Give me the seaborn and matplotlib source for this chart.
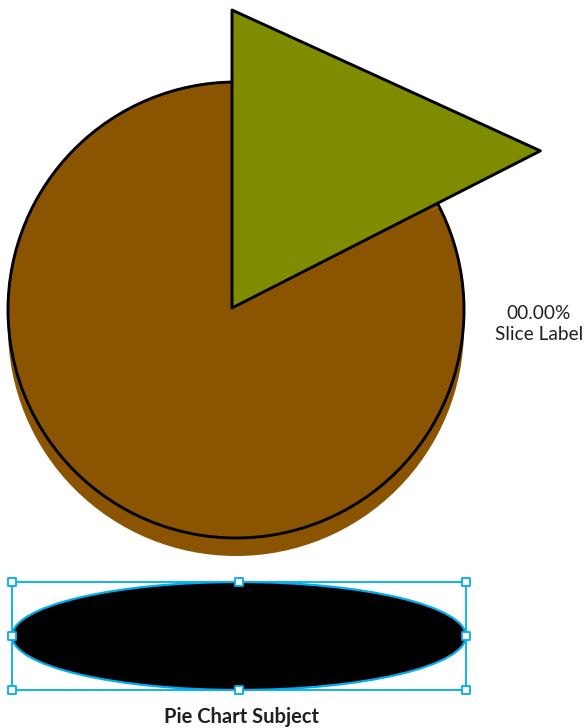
import matplotlib
matplotlib.use("Agg")
import matplotlib.pyplot as plt
from matplotlib.patches import Polygon, Ellipse, Rectangle, Circle
import numpy as np
import pandas as pd
import seaborn as sns

# ---- data ----
slice_names = ["Other", "Slice"]
slice_values = [82.5, 17.5]
slice_colors = ["#8B5400", "#7F8C00"]
slice_label = "00.00%\nSlice Label"
subject_title = "Pie Chart Subject"

sns.set_theme(style="white")
plt.rcParams["font.family"] = ["Lato", "DejaVu Sans"]

W, H = 587, 728
fig = plt.figure(figsize=(W / 100, H / 100), dpi=100)
ax = fig.add_axes([0, 0, 1, 1])


def py(y):
    return H - y


cx, cy, R = 236, py(310), 228
shadow_dy = 18

# shadow
ax.add_patch(Circle((cx, cy - shadow_dy), R, facecolor=slice_colors[0], edgecolor="none", zorder=1))

wedges, _ = ax.pie(slice_values, colors=slice_colors, startangle=90, counterclock=True,
                   center=(cx, cy), radius=R,
                   wedgeprops=dict(edgecolor="none", linewidth=0, zorder=2))
# base disc outline
ax.add_patch(Circle((cx, cy), R, facecolor="none", edgecolor="black", linewidth=2.1, zorder=2.5))

# exploded triangular slice
g = wedges[1]
g.set_facecolor(slice_colors[0])
t1, t2 = g.theta1, g.theta2
ax_off = np.array([-4, 2])
apex = np.array([cx, cy]) + ax_off
r1, r2 = 1.518 * R, 1.307 * R
p1 = apex + r1 * np.array([np.cos(np.radians(t1)), np.sin(np.radians(t1))])
p2 = apex + r2 * np.array([np.cos(np.radians(t2)), np.sin(np.radians(t2))])
ax.add_patch(Polygon([apex, p1, p2], closed=True, facecolor=slice_colors[1],
                     edgecolor="black", linewidth=2.1, joinstyle="round", zorder=3))

ax.text(539, py(324), slice_label, ha="center", va="center", fontsize=13.75,
        color="#231f20", linespacing=1.35, zorder=5)

# subject ellipse with selection box
ex, ey, ew, eh = 239, py(636), 454, 108
ax.add_patch(Ellipse((ex, ey), ew, eh, facecolor="black", edgecolor="#00AEEF", linewidth=1.6, zorder=2))
ax.add_patch(Rectangle((ex - ew / 2, ey - eh / 2), ew, eh, facecolor="none",
                       edgecolor="#00AEEF", linewidth=1.3, zorder=3))
hx = [ex - ew / 2, ex, ex + ew / 2, ex - ew / 2, ex + ew / 2, ex - ew / 2, ex, ex + ew / 2]
hy = [ey + eh / 2] * 3 + [ey] * 2 + [ey - eh / 2] * 3
sns.scatterplot(x=hx, y=hy, ax=ax, marker="s", s=30, color="white",
                edgecolor="#00AEEF", linewidth=1.3, zorder=4, legend=False)

ax.text(241, py(717), subject_title, ha="center", va="center", fontsize=14.5,
        fontweight="bold", color="#231f20", zorder=5)

ax.set_xlim(0, W)
ax.set_ylim(0, H)
ax.set_aspect("equal")
ax.axis("off")

fig.savefig("out.png", dpi=100)
